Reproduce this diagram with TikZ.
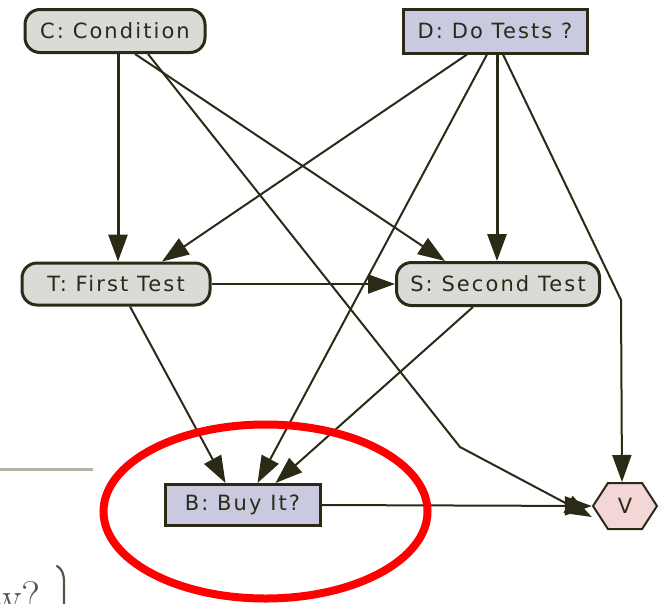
\documentclass[tikz,border=0pt]{standalone}
\usepackage{fontspec}
\newfontfamily\nodefont[LetterSpace=10]{DejaVu Sans}
\usetikzlibrary{arrows.meta,shapes.symbols}
\definecolor{ink}{HTML}{2B2A17}
\definecolor{chancefill}{HTML}{DADAD6}
\definecolor{decfill}{HTML}{C9C9E0}
\definecolor{utilfill}{HTML}{F3D6D6}
\definecolor{rulegray}{HTML}{B4B4A6}
\tikzset{
  base/.style={draw=ink, line width=3pt, text=ink, inner sep=0pt,
    font=\nodefont\fontsize{21}{21}\selectfont},
  chance/.style={base, fill=chancefill, rounded corners=15pt},
  decision/.style={base, fill=decfill},
  utility/.style={base, fill=utilfill, line width=2pt, signal, signal to=west and east,
    signal pointer angle=114, minimum width=64pt, minimum height=46pt},
  link/.style={draw=ink, line width=2pt, line join=round,
    -{Triangle[length=27pt,width=19pt]}},
}
\begin{document}
\begin{tikzpicture}[x=1pt,y=-1pt]
\useasboundingbox (0,0) rectangle (658,603);
\begin{scope}
\clip (0,0) rectangle (658,603);

% nodes of the influence diagram
\node[chance, minimum width=180pt, minimum height=43pt] (C) at (115,31) {C: Condition};
\node[decision, minimum width=184pt, minimum height=44pt] (D) at (495,31) {D: Do Tests ?};
\node[chance, minimum width=188pt, minimum height=42pt] (T) at (116,284) {T: First Test};
\node[chance, minimum width=203pt, minimum height=43pt] (S) at (498,284) {S: Second Test};
\node[decision, minimum width=155pt, minimum height=41pt] (B) at (242.5,505) {B: Buy It?};
\node[utility] (V) at (625,506) {V};

% bend points of the long links
\coordinate (cv) at (460,447);
\coordinate (dv) at (621,300);

% links
\draw[link, line width=3pt] ([xshift=3pt]C.south) -- ([xshift=2pt]T.north);
\draw[link] ([xshift=20pt]C.south) -- ([xshift=-53pt]S.north);
\draw[link] ([xshift=33pt]C.south) -- (cv) -- ([yshift=-11pt]V.west);
\draw[link] ([xshift=-28pt]D.south) -- ([xshift=46pt]T.north);
\draw[link] ([xshift=-8pt]D.south) -- ([xshift=15pt]B.north);
\draw[link, line width=3pt] ([xshift=2pt]D.south) -- ([xshift=-1pt]S.north);
\draw[link] ([xshift=8pt]D.south) -- (dv) -- ([xshift=-3pt]V.north);
\draw[link] (T.east) -- (S.west);
\draw[link] ([xshift=14pt]T.south) -- ([xshift=-17pt]B.north);
\draw[link] ([xshift=-25pt]S.south) -- ([xshift=33pt]B.north);
\draw[link] (B.east) -- (V.west);

% highlight around the buy decision
\draw[red, line width=8pt] (265.5,511.5) ellipse [x radius=162, y radius=87];

% page fragments at the left edge
\draw[rulegray, line width=3pt] (0,469) -- (93,469);
\node[anchor=base west, inner sep=0pt, text=ink!80, font=\fontsize{44}{44}\selectfont]
  (tail) at (-8,612) {w?};
% upper end of a tall closing brace
\draw[ink!80, line width=2.2pt, line cap=round]
  (57,566) .. controls (62,569) and (64,574) .. (64,582) -- (64,610);
\end{scope}
\end{tikzpicture}
\end{document}
